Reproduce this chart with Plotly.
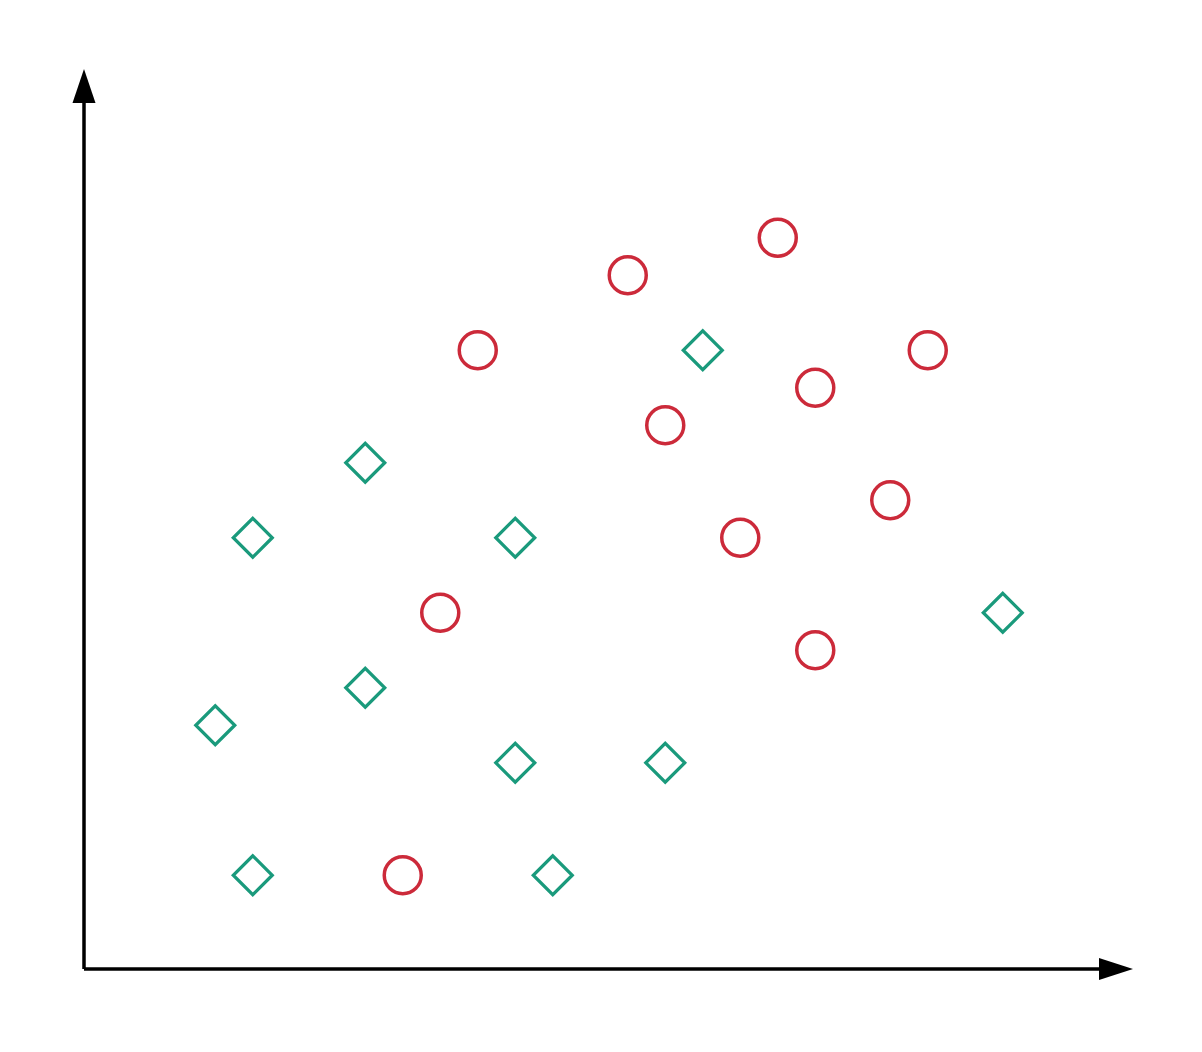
import plotly.graph_objects as go

# two classes of points on an integer grid
circle_x = [19, 15, 11, 23, 20, 16, 22, 18, 10, 20, 9]
circle_y = [20, 19, 17, 17, 16, 15, 13, 12, 10, 9, 3]

diamond_x = [17, 8, 5, 12, 25, 8, 4, 12, 16, 5, 13]
diamond_y = [17, 14, 12, 12, 10, 8, 7, 6, 6, 3, 3]

x_range = [0.5, 28.5]
y_range = [0.5, 24.5]

red = "#cc2a3a"
teal = "#1a9a7c"

fig = go.Figure()

fig.add_trace(go.Scatter(
    x=circle_x, y=circle_y, mode="markers",
    marker=dict(symbol="circle-open", size=37, color=red, line=dict(width=3.5, color=red)),
    showlegend=False, hoverinfo="skip",
))
fig.add_trace(go.Scatter(
    x=diamond_x, y=diamond_y, mode="markers",
    marker=dict(symbol="diamond-open", size=30, color=teal, line=dict(width=3.2, color=teal)),
    showlegend=False, hoverinfo="skip",
))

# axis lines with arrow heads
shapes = [
    dict(type="line", xref="paper", yref="paper", x0=0, y0=0, x1=0.97, y1=0,
         line=dict(color="black", width=3.5)),
    dict(type="line", xref="paper", yref="paper", x0=0, y0=0, x1=0, y1=0.97,
         line=dict(color="black", width=3.5)),
    dict(type="path", xref="paper", yref="paper", xsizemode="pixel", ysizemode="pixel",
         xanchor=1, yanchor=0, path="M-1,0 L-35,11 L-35,-11 Z",
         fillcolor="black", line=dict(width=0)),
    dict(type="path", xref="paper", yref="paper", xsizemode="pixel", ysizemode="pixel",
         xanchor=0, yanchor=1, path="M0,0 L-11.5,-34 L11.5,-34 Z",
         fillcolor="black", line=dict(width=0)),
]

fig.update_layout(
    width=1202, height=1052,
    margin=dict(l=76, r=76, t=61, b=91),
    paper_bgcolor="white", plot_bgcolor="white",
    shapes=shapes,
)
fig.update_xaxes(range=x_range, visible=False, fixedrange=True)
fig.update_yaxes(range=y_range, visible=False, fixedrange=True)

fig.write_html("out.html")
